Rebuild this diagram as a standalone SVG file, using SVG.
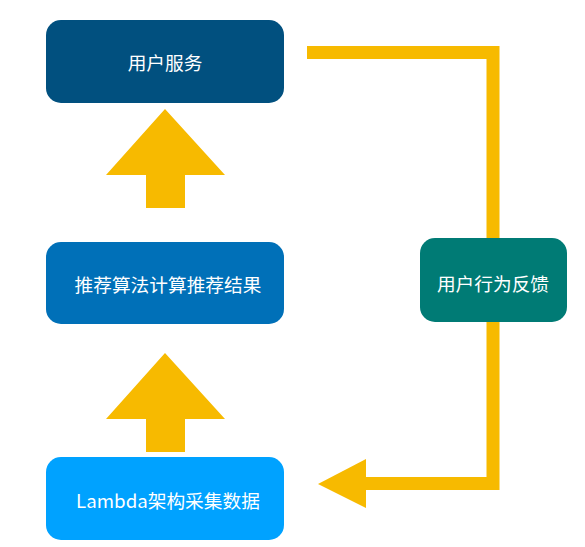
<svg xmlns="http://www.w3.org/2000/svg" width="585" height="547" viewBox="0 0 585 547">
<style>
.t{font-family:"Noto Sans CJK SC","Liberation Sans",sans-serif;font-size:18.7px;fill:#ffffff;text-anchor:middle;dominant-baseline:central}
.y{fill:#F7BA00}
</style>
<rect width="585" height="547" fill="#ffffff"/>
<g id="connectors">
<polygon class="y" points="165,109 225,175 185,175 185,208 146,208 146,175 106,175"/>
<polygon class="y" points="165,353 225,419 185,419 185,452 146,452 146,419 106,419"/>
<polyline points="307,52.5 493,52.5 493,483.5 362,483.5" fill="none" stroke="#F7BA00" stroke-width="13"/>
<polygon class="y" points="318,484 366,459 366,508"/>
</g>
<g id="n1"><rect x="46" y="20" width="238" height="83" rx="15" fill="#01507F"/><text class="t" x="165" y="61">用户服务</text></g>
<g id="n2"><rect x="46" y="242" width="238" height="82" rx="15" fill="#0070B8"/><text class="t" x="168" y="283">推荐算法计算推荐结果</text></g>
<g id="n3"><rect x="46" y="457" width="238" height="83" rx="15" fill="#00A2FF"/><text class="t" x="168" y="499">Lambda架构采集数据</text></g>
<g id="n4"><rect x="420" y="238" width="147" height="84" rx="15" fill="#007B75"/><text class="t" x="493" y="282">用户行为反馈</text></g>
</svg>
